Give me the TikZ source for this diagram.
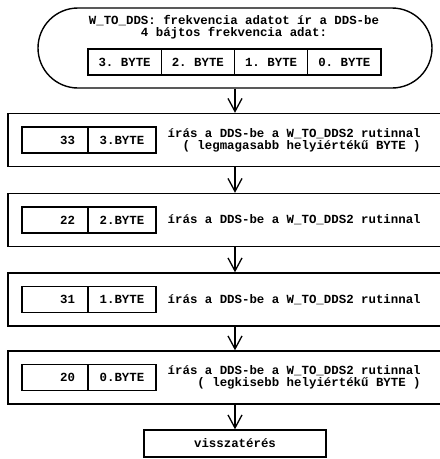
\documentclass[tikz,border=0pt]{standalone}
\usepackage{fontspec}
\setmonofont{Liberation Mono}
\usetikzlibrary{arrows.meta,positioning}

\begin{document}
\begin{tikzpicture}[
        x=1pt, y=-1pt,
        font=\ttfamily\bfseries\fontsize{12.4}{12}\selectfont,
        line width=1.4pt,
        kapszula/.style={
            draw,
            rounded corners=40pt,
            minimum width=394pt,
            minimum height=80pt,
            inner sep=0pt
        },
        lepes/.style={
            draw,
            minimum width=435pt,
            minimum height=53pt,
            inner sep=0pt
        },
        cella/.style={
            draw,
            minimum height=26pt,
            inner sep=0pt,
            outer sep=0pt
        },
        fcella/.style={cella, minimum width=73.25pt},
        bajt/.style={cella, minimum width=68pt},
        ertek/.style={
            cella,
            minimum width=66pt,
            text width=40pt,
            inner xsep=13pt,
            align=right
        },
        leiras/.style={align=right, inner sep=0pt},
        nyil/.style={
            -{Straight Barb[length=13pt,width=14pt]},
            line width=1.3pt
        }
    ]

        \useasboundingbox (0,0) rectangle (440,459);

        % Fejléc: W_TO_DDS és a 4 bájt
        \node[kapszula] (fejlec) at (235,48) {};
        \node[align=center, inner sep=0pt] (cim) at (234,27)
            {W\_TO\_DDS: frekvencia adatot ír a DDS-be\\4 bájtos frekvencia adat:};

        \node[fcella] (fb3) at (124.6,62) {3. BYTE};
        \node[fcella, right=0pt of fb3] (fb2) {2. BYTE};
        \node[fcella, right=0pt of fb2] (fb1) {1. BYTE};
        \node[fcella, right=0pt of fb1] (fb0) {0. BYTE};

        % 1. lépés: 3. bájt
        \node[lepes] (lepes1) at (225.5,140) {};
        \node[ertek] (ertek1) at (55,140) {33};
        \node[bajt, right=0pt of ertek1] (bajt1) {3.BYTE};
        \node[leiras, right=11pt of bajt1] (leiras1)
            {írás a DDS-be a W\_TO\_DDS2 rutinnal\\( legmagasabb helyiértékű BYTE )};

        % 2. lépés: 2. bájt
        \node[lepes] (lepes2) at (225.5,220) {};
        \node[ertek] (ertek2) at (55,220) {22};
        \node[bajt, right=0pt of ertek2] (bajt2) {2.BYTE};
        \node[leiras, right=11pt of bajt2] (leiras2)
            {írás a DDS-be a W\_TO\_DDS2 rutinnal};

        % 3. lépés: 1. bájt
        \node[lepes] (lepes3) at (225.5,299.5) {};
        \node[ertek] (ertek3) at (55,299.5) {31};
        \node[bajt, right=0pt of ertek3] (bajt3) {1.BYTE};
        \node[leiras, right=11pt of bajt3] (leiras3)
            {írás a DDS-be a W\_TO\_DDS2 rutinnal};

        % 4. lépés: 0. bájt
        \node[lepes] (lepes4) at (225.5,377.5) {};
        \node[ertek] (ertek4) at (55,377.5) {20};
        \node[bajt, right=0pt of ertek4] (bajt4) {0.BYTE};
        \node[leiras, right=11pt of bajt4] (leiras4)
            {írás a DDS-be a W\_TO\_DDS2 rutinnal\\( legkisebb helyiértékű BYTE )};

        % Visszatérés
        \node[draw, minimum width=182pt, minimum height=27pt] (vissza)
            at (235,443.5) {visszatérés};

        % Folyam
        \draw[nyil] (fejlec.south) -- (fejlec.south |- lepes1.north);
        \draw[nyil] (lepes1.south -| fejlec.south) -- (lepes2.north -| fejlec.south);
        \draw[nyil] (lepes2.south -| fejlec.south) -- (lepes3.north -| fejlec.south);
        \draw[nyil] (lepes3.south -| fejlec.south) -- (lepes4.north -| fejlec.south);
        \draw[nyil] (lepes4.south -| vissza.north) -- (vissza.north);

    \end{tikzpicture}
\end{document}
